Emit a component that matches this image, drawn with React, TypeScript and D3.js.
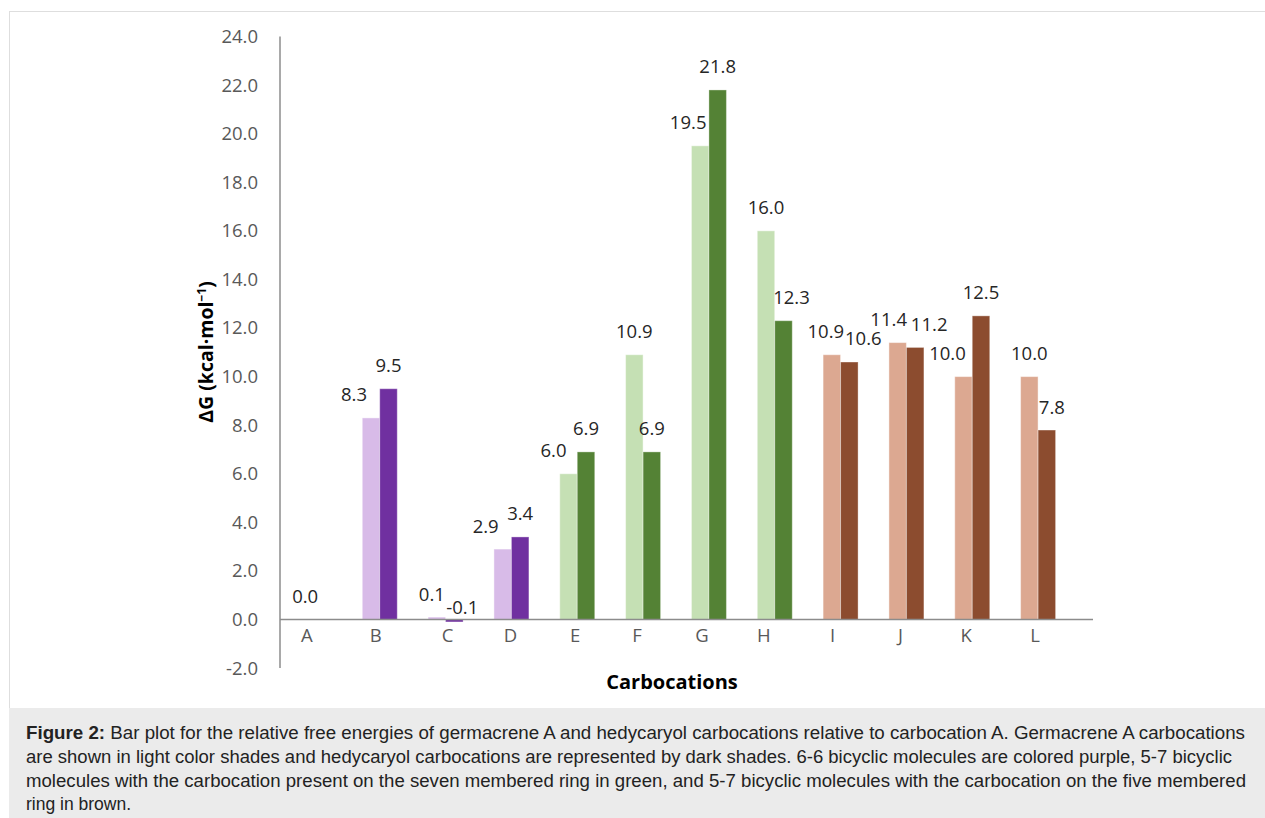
import React from 'react';
import * as d3 from 'd3';

const categories = ['A', 'B', 'C', 'D', 'E', 'F', 'G', 'H', 'I', 'J', 'K', 'L'];
const germacreneA: (number | null)[] = [0.0, 8.3, 0.1, 2.9, 6.0, 10.9, 19.5, 16.0, 10.9, 11.4, 10.0, 10.0];
const hedycaryol: (number | null)[] = [null, 9.5, -0.1, 3.4, 6.9, 6.9, 21.8, 12.3, 10.6, 11.2, 12.5, 7.8];
const ringGroup = ['purple', 'purple', 'purple', 'purple', 'green', 'green', 'green', 'green', 'brown', 'brown', 'brown', 'brown'];
const yTicks = [-2, 0, 2, 4, 6, 8, 10, 12, 14, 16, 18, 20, 22, 24];

const captionFirst = ' Bar plot for the relative free energies of germacrene A and hedycaryol carbocations relative to carbocation A. Germacrene A carbocations';
const captionLines = [
  'are shown in light color shades and hedycaryol carbocations are represented by dark shades. 6-6 bicyclic molecules are colored purple, 5-7 bicyclic',
  'molecules with the carbocation present on the seven membered ring in green, and 5-7 bicyclic molecules with the carbocation on the five membered',
  'ring in brown.',
];

// styling
const palette: Record<string, { light: string; dark: string }> = {
  purple: { light: '#d8bbe8', dark: '#7030a0' },
  green: { light: '#c5e0b4', dark: '#548235' },
  brown: { light: '#dca891', dark: '#8c4c2f' },
};
// manual label nudges (layout only)
const lightNudge = [0, -17, -5, -17, -15, 0, -12, 0, -6, -9, -16, 0];
const darkNudge = [0, 0, 8, 0, 0, 0, 0, 8, 14, 14, 0, 5];
const darkNudgeY = [0, 0, 11, 0, 0, 0, 0, 0, 0, 0, 0, 0];
const catNudge = [-7, -4, 2, -1, -2, -6, -7, -11, -8, -6, -6, -3];
const captionWidths = [1206, 1220, null];

const NUM_FONT = '"Open Sans", sans-serif';

export default function App() {
  const W = 1265;
  const H = 818;
  const y = d3.scaleLinear().domain([-2, 24]).range([668.1, 36.5]);
  const x = d3.scaleBand<string>().domain(categories).range([281, 1071]);
  const bw = 17.5;
  const axisX = 280;
  const center = (c: string) => (x(c) as number) + x.bandwidth() / 2;
  const fmt = d3.format('.1f');
  const fmtLabel = (v: number) => (v < 0 ? '-' + fmt(-v) : fmt(v));

  return (
    <svg
      width={W}
      height={H}
      style={{ position: 'absolute', left: 0, top: 0, background: '#fff' }}
    >
      {/* frame */}
      <rect x={9.5} y={11.5} width={W} height={H} fill="#fff" stroke="#dedede" strokeWidth={1} />
      {/* caption box */}
      <rect x={9} y={708} width={W} height={H - 708} fill="#ebebeb" />

      {/* y axis */}
      <line x1={axisX} x2={axisX} y1={y(24)} y2={y(-2)} stroke="#8c8c8c" strokeWidth={1.5} />
      {yTicks.map((t) => (
        <text
          key={t}
          x={258}
          y={y(t)}
          dy="0.35em"
          textAnchor="end"
          fontFamily={NUM_FONT}
          fontSize={18.5}
          fill="#595959"
        >
          {fmtLabel(t)}
        </text>
      ))}

      {/* bars */}
      {categories.map((c, i) => {
        const cx = center(c);
        const col = palette[ringGroup[i]];
        const g = germacreneA[i];
        const h = hedycaryol[i];
        return (
          <g key={c}>
            {g !== null && (
              <rect
                x={cx - bw}
                y={y(Math.max(g, 0))}
                width={bw}
                height={Math.abs(y(g) - y(0))}
                fill={col.light}
                stroke="#ffffff"
                strokeOpacity={0.45}
                strokeWidth={1}
              />
            )}
            {h !== null && (
              <rect
                x={cx}
                y={y(Math.max(h, 0))}
                width={bw}
                height={Math.abs(y(h) - y(0))}
                fill={col.dark}
                stroke="#ffffff"
                strokeOpacity={0.35}
                strokeWidth={1}
              />
            )}
          </g>
        );
      })}

      {/* x axis */}
      <line x1={axisX} x2={1093} y1={y(0)} y2={y(0)} stroke="#8c8c8c" strokeWidth={1.5} />
      {categories.map((c, i) => (
        <text
          key={c}
          x={center(c) + catNudge[i]}
          y={636}
          dy="0.35em"
          textAnchor="middle"
          fontFamily={NUM_FONT}
          fontSize={18.5}
          fill="#595959"
        >
          {c}
        </text>
      ))}

      {/* data labels */}
      {categories.map((c, i) => {
        const cx = center(c);
        const g = germacreneA[i];
        const h = hedycaryol[i];
        return (
          <g key={'l' + c} fontFamily={NUM_FONT} fontSize={18.5} fill="#262626" textAnchor="middle">
            {g !== null && (
              <text x={cx - bw / 2 + lightNudge[i]} y={y(Math.max(g, 0)) - 23} dy="0.35em">
                {fmtLabel(g)}
              </text>
            )}
            {h !== null && (
              <text x={cx + bw / 2 + darkNudge[i]} y={y(Math.max(h, 0)) - 23 + darkNudgeY[i]} dy="0.35em">
                {fmtLabel(h)}
              </text>
            )}
          </g>
        );
      })}

      {/* axis titles */}
      <text
        transform="translate(206,352) rotate(-90)"
        textAnchor="middle"
        dy="0.35em"
        fontFamily={NUM_FONT}
        fontWeight="bold"
        fontSize={19.5}
        fill="#000"
      >
        <tspan>ΔG (kcal·mol</tspan>
        <tspan fontSize={12} dy="-7">−1</tspan>
        <tspan dy="7">)</tspan>
      </text>
      <text
        x={672}
        y={682}
        dy="0.35em"
        textAnchor="middle"
        fontFamily={NUM_FONT}
        fontWeight="bold"
        fontSize={20}
        fill="#000"
      >
        Carbocations
      </text>

      {/* caption */}
      <g fontFamily='"Liberation Sans", Arial, sans-serif' fontSize={17.5} fill="#222">
        <text x={26} y={739} textLength={1219} lengthAdjust="spacingAndGlyphs">
          <tspan fontWeight="bold">Figure 2:</tspan>
          <tspan>{captionFirst}</tspan>
        </text>
        {captionLines.map((l, i) => (
          <text
            key={i}
            x={26}
            y={763 + i * 23.5}
            {...(captionWidths[i] ? { textLength: captionWidths[i] as number, lengthAdjust: 'spacingAndGlyphs' } : {})}
          >
            {l}
          </text>
        ))}
      </g>
    </svg>
  );
}
